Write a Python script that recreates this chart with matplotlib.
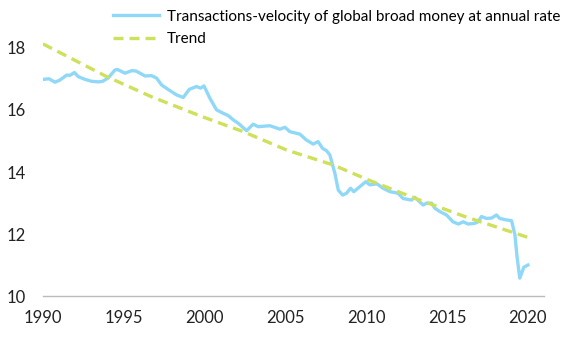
import matplotlib.pyplot as plt

# (decimal year, value)
years = [1990.0, 1990.37, 1990.74, 1991.05, 1991.47, 1991.67, 1991.94, 1992.18, 1992.6, 1993.0,
         1993.42, 1993.7, 1994.04, 1994.45, 1994.6, 1995.07, 1995.49, 1995.75, 1996.0, 1996.31,
         1996.72, 1997.03, 1997.34, 1997.85, 1998.27, 1998.68, 1999.05, 1999.5, 1999.75, 1999.96,
         2000.33, 2000.74, 2001.15, 2001.45, 2001.77, 2002.08, 2002.6, 2003.0, 2003.31, 2004.04,
         2004.66, 2004.97, 2005.27, 2005.89, 2006.3, 2006.72, 2007.02, 2007.3, 2007.54, 2007.75,
         2008.06, 2008.27, 2008.54, 2008.78, 2009.03, 2009.23, 2009.6, 2009.97, 2010.22, 2010.67,
         2011.04, 2011.46, 2011.97, 2012.28, 2012.8, 2013.0, 2013.52, 2013.73, 2014.04, 2014.24,
         2014.55, 2014.97, 2015.37, 2015.7, 2016.0, 2016.3, 2016.7, 2016.92, 2017.13, 2017.44,
         2017.75, 2018.06, 2018.26, 2018.68, 2018.99, 2019.2, 2019.33, 2019.5, 2019.75, 2020.0]
velocity = [16.98, 17.0, 16.89, 16.96, 17.12, 17.11, 17.2, 17.07, 16.98, 16.92,
            16.9, 16.92, 17.03, 17.28, 17.3, 17.18, 17.26, 17.25, 17.18, 17.09,
            17.1, 17.02, 16.8, 16.62, 16.48, 16.4, 16.66, 16.75, 16.7, 16.77,
            16.37, 16.0, 15.89, 15.82, 15.68, 15.57, 15.33, 15.54, 15.46, 15.49,
            15.38, 15.44, 15.3, 15.22, 15.03, 14.9, 14.98, 14.76, 14.69, 14.55,
            13.96, 13.42, 13.26, 13.32, 13.48, 13.37, 13.53, 13.69, 13.59, 13.62,
            13.48, 13.37, 13.32, 13.15, 13.1, 13.19, 12.94, 13.0, 13.0, 12.84,
            12.73, 12.62, 12.4, 12.33, 12.4, 12.33, 12.35, 12.4, 12.57, 12.51,
            12.52, 12.62, 12.51, 12.46, 12.44, 11.98, 11.28, 10.59, 10.94, 11.01]

trend_years = [1990.0, 1993.94, 1996.72, 1999.81, 2002.39, 2005.07, 2007.95, 2010.12, 2013.0, 2016.1, 2020.0]
trend_values = [18.12, 17.07, 16.42, 15.79, 15.3, 14.71, 14.23, 13.75, 13.16, 12.57, 11.9]

plt.rcParams['font.family'] = ['Lato', 'DejaVu Sans']

fig = plt.figure(figsize=(5.78, 3.40), dpi=100)
ax = fig.add_axes([0.0744, 0.128, 0.8668, 0.869])

ax.plot(years, velocity, color='#8fd8f8', linewidth=2.4,
        label='Transactions-velocity of global broad money at annual rate')
ax.plot(trend_years, trend_values, color='#cfe05a', linewidth=2.4,
        linestyle=(0, (3, 1.8)), label='Trend')

ax.set_xlim(1990, 2021)
ax.set_ylim(10, 19.5)
ax.set_xticks([1990, 1995, 2000, 2005, 2010, 2015, 2020])
ax.set_yticks([10, 12, 14, 16, 18])
ax.tick_params(length=0, labelsize=12, colors='#222222')
ax.tick_params(axis='y', pad=12)
ax.tick_params(axis='x', pad=10)
for s in ['top', 'right', 'left']:
    ax.spines[s].set_visible(False)
ax.spines['bottom'].set_color('#bbbbbb')
ax.spines['bottom'].set_linewidth(1.0)

fig.legend(loc='upper left', bbox_to_anchor=(0.185, 0.99), frameon=False,
           fontsize=11, handlelength=3.0, handletextpad=0.5, labelspacing=0.55,
           borderaxespad=0)

plt.savefig('out.png', dpi=100)
